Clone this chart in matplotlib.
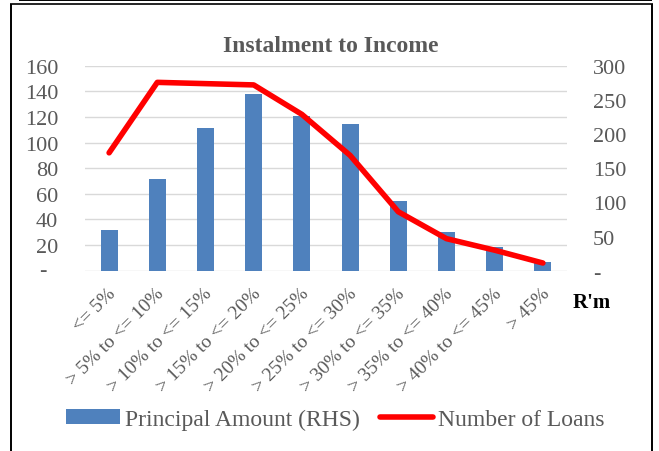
import matplotlib
matplotlib.use("Agg")
import matplotlib.pyplot as plt
from matplotlib.lines import Line2D

# --- data -------------------------------------------------------------
categories = ["<= 5%", "> 5% to <= 10%", "> 10% to <= 15%", "> 15% to <= 20%",
              "> 20% to <= 25%", "> 25% to <= 30%", "> 30% to <= 35%",
              "> 35% to <= 40%", "> 40% to <= 45%", "> 45%"]
principal_rm = [60, 134, 209, 258, 226, 214, 102, 56, 34, 13]      # right axis, R'm
number_of_loans = [92, 147, 146, 145, 122, 90, 46, 25, 16, 6]     # left axis
left_ticks = [0, 20, 40, 60, 80, 100, 120, 140, 160]
right_ticks = [0, 50, 100, 150, 200, 250, 300]

# --- style ------------------------------------------------------------
plt.rcParams["font.family"] = ["Liberation Serif", "DejaVu Serif"]
GREY = "#595959"
BLUE = "#4F81BD"
RED = "#FF0000"
GRID = "#D9D9D9"

W, H = 659, 452
fig = plt.figure(figsize=(W / 100, H / 100), dpi=100)
fig.patch.set_facecolor("white")

rect = [85 / W, 1 - 271.7 / H, (567 - 85) / W, (271.7 - 66.7) / H]
ax = fig.add_axes(rect)          # left scale + gridlines
ax_bar = ax.twinx()              # right scale, bars
ax_line = ax.twinx()             # left scale, line drawn on top

x = list(range(len(categories)))
for a in (ax, ax_bar, ax_line):
    a.set_xlim(-0.5, len(categories) - 0.5)
    for s in a.spines.values():
        s.set_visible(False)
    a.set_xticks([])
ax_bar.patch.set_visible(False)
ax_line.patch.set_visible(False)

# left axis
ax.set_ylim(left_ticks[0], left_ticks[-1])
ax.set_yticks(left_ticks)
ax.set_yticklabels([""] + [str(v) for v in left_ticks[1:]])
ax.tick_params(axis="y", length=0, pad=19.4, labelsize=16, labelcolor=GREY)
ax.grid(axis="y", color=GRID, linewidth=1.0)
ax.set_axisbelow(True)
ax.annotate("-", xy=(0, 0), xycoords=("axes fraction", "data"),
            xytext=(-42.5, 0), textcoords="offset pixels",
            ha="center", va="center", fontsize=16, color=GREY)

# right axis
ax_bar.set_ylim(right_ticks[0], right_ticks[-1])
ax_bar.set_yticks(right_ticks)
ax_bar.set_yticklabels(["-"] + [str(v) for v in right_ticks[1:]])
ax_bar.tick_params(axis="y", length=0, pad=18.7, labelsize=16, labelcolor=GREY)

ax_line.set_ylim(left_ticks[0], left_ticks[-1])
ax_line.set_yticks([])

bars = ax_bar.bar(x, principal_rm, width=0.35, color=BLUE,
                  label="Principal Amount (RHS)", zorder=2)
line, = ax_line.plot(x, number_of_loans, color=RED, linewidth=4,
                     solid_capstyle="round", solid_joinstyle="round",
                     label="Number of Loans")

# rotated category labels
for i, lab in zip(x, categories):
    ax.annotate(lab, xy=(i, 0), xycoords=("data", "axes fraction"),
                xytext=(4, -20), textcoords="offset pixels",
                ha="right", va="center", rotation=45, rotation_mode="anchor",
                fontsize=14, color=GREY)

# title and unit label
fig.text(331 / W, 1 - 51.7 / H, "Instalment to Income", ha="center",
         va="baseline", fontsize=17, fontweight="bold", color=GREY)
fig.text(592 / W, 1 - 303 / H, "R'm", ha="center", va="center",
         fontsize=15, fontweight="bold", color="black")

# legend
fig.legend(handles=[bars, line], loc="center",
           bbox_to_anchor=(335.5 / W, 1 - 420 / H), ncol=2, frameon=False,
           fontsize=17, labelcolor=GREY, handlelength=2.25,
           handleheight=0.6, handletextpad=0.22, columnspacing=0.85,
           borderpad=0, borderaxespad=0)

# outer frame
def fig_line(xs, ys, lw):
    fig.add_artist(Line2D([v / W for v in xs], [1 - v / H for v in ys],
                          transform=fig.transFigure, color="black",
                          linewidth=lw, solid_capstyle="butt"))

fig_line([19, 652], [0.8, 0.8], 1.4)
fig_line([11, 11], [5.3, H + 2], 1.4)
fig_line([652, 652], [5.3, H + 2], 1.4)
fig_line([10.3, 652.7], [5.3, 5.3], 1.2)

fig.savefig("out.png", dpi=100)
